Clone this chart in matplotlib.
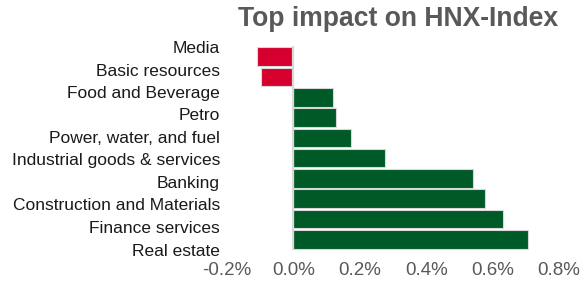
import matplotlib
matplotlib.use("Agg")
import matplotlib.pyplot as plt

categories = ["Media", "Basic resources", "Food and Beverage", "Petro",
              "Power, water, and fuel", "Industrial goods & services",
              "Banking", "Construction and Materials", "Finance services",
              "Real estate"]
values = [-0.110, -0.098, 0.118, 0.127, 0.172, 0.277, 0.542, 0.577, 0.632, 0.707]
xticks = [-0.2, 0.0, 0.2, 0.4, 0.6, 0.8]
xtick_labels = ["-0.2%", "0.0%", "0.2%", "0.4%", "0.6%", "0.8%"]
title = "Top impact on HNX-Index"

plt.rcParams['font.family'] = ['Liberation Sans', 'DejaVu Sans']

W, H = 587, 288
fig = plt.figure(figsize=(W / 100, H / 100), dpi=100)
ax = fig.add_axes([227 / W, 1 - 249.5 / H, (559 - 227) / W, (249.5 - 46.5) / H])

colors = ["#D6002F" if v < 0 else "#005A28" for v in values]
ypos = list(range(len(categories)))
ax.barh(ypos, values, height=0.92, color=colors, edgecolor="#d8d8d8", linewidth=0.8, zorder=2)
ax.axvline(0, color="#d9d9d9", linewidth=1.6, zorder=3)

ax.set_xlim(-0.2, 0.8)
ax.set_ylim(len(categories) - 0.5, -0.5)
ax.set_xticks(xticks)
ax.set_xticklabels(xtick_labels, fontsize=13.5, color="#595959")
ax.set_yticks([])
ax.tick_params(axis="x", length=0, pad=9)
for s in ax.spines.values():
    s.set_visible(False)

# category labels (positioned independently of bars as in the original)
for i, c in enumerate(categories):
    yc = 48.5 + i * 22.5
    fig.text(220 / W, 1 - yc / H, c, ha="right", va="center",
             fontsize=12.5, color="#1a1a1a")

fig.text(398 / W, 1 - 19 / H, title, ha="center", va="center",
         fontsize=19.1, fontweight="bold", color="#595959")

fig.savefig("out.png", dpi=100)
